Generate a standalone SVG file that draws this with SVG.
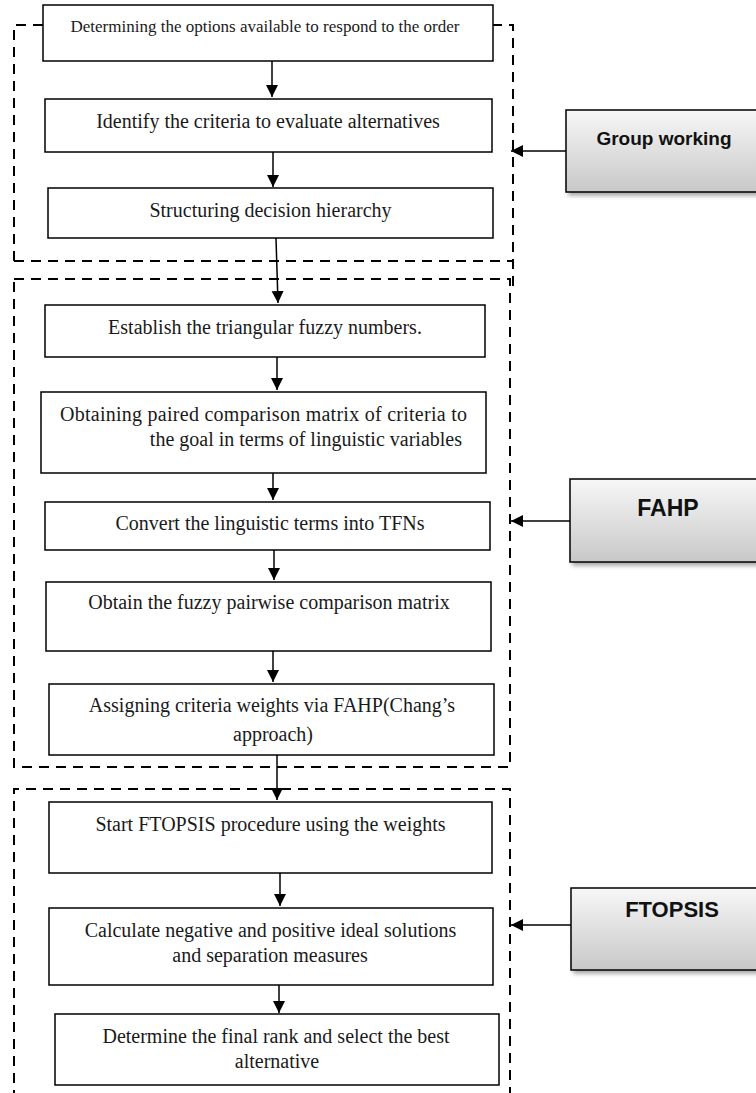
<svg xmlns="http://www.w3.org/2000/svg" width="756" height="1093" viewBox="0 0 756 1093">
<style>
.box{fill:#fff;stroke:#000;stroke-width:1.5}
.t{font-family:"Liberation Serif","Times New Roman",serif;font-size:20px;fill:#1a1a1a;text-anchor:middle}
.dash{fill:none;stroke:#000;stroke-width:2;stroke-dasharray:10 7}
.side{fill:url(#g);stroke:#000;stroke-width:1.5;filter:url(#sh)}
.st{font-family:"Liberation Sans",Arial,sans-serif;font-weight:bold;fill:#111;text-anchor:middle}
.c{fill:none;stroke:#000;stroke-width:1.5}
</style>
<defs>
<linearGradient id="g" x1="0" y1="0" x2="0" y2="1">
<stop offset="0" stop-color="#f7f7f7"/>
<stop offset="1" stop-color="#c8c8c8"/>
</linearGradient>
<filter id="sh" x="-10%" y="-10%" width="130%" height="140%">
<feDropShadow dx="3" dy="3" stdDeviation="2" flood-color="#000" flood-opacity="0.35"/>
</filter>
<marker id="ah" markerUnits="userSpaceOnUse" markerWidth="14" markerHeight="14" refX="12" refY="6" orient="auto">
<path d="M0,0 L12,6 L0,12 z" fill="#000"/>
</marker>
</defs>
<rect width="756" height="1093" fill="#fff"/>

<g id="containers">
<path class="dash" d="M14,261 V25 H513 V292"/>
<path class="dash" d="M14,261 H513"/>
<rect class="dash" x="14" y="279" width="496" height="488"/>
<path class="dash" d="M14,1100 V789 H510 V1100"/>
</g>

<g id="n1"><rect class="box" x="43" y="5" width="450" height="56"/><text class="t" x="265" y="32" style="font-size:17px">Determining the options available to respond to the order</text></g>
<g id="n2"><rect class="box" x="45" y="99" width="447" height="53"/><text class="t" x="268" y="128">Identify the criteria to evaluate alternatives</text></g>
<g id="n3"><rect class="box" x="48" y="188" width="445" height="50"/><text class="t" x="270.5" y="217">Structuring decision hierarchy</text></g>
<g id="n4"><rect class="box" x="45" y="305" width="440" height="52"/><text class="t" x="265" y="334">Establish the triangular fuzzy numbers.</text></g>
<g id="n5"><rect class="box" x="41" y="392" width="445" height="81"/><text class="t" x="60" y="421" style="text-anchor:start" textLength="407" lengthAdjust="spacing">Obtaining paired comparison matrix of criteria to</text><text class="t" x="462" y="446" style="text-anchor:end">the goal in terms of linguistic variables</text></g>
<g id="n6"><rect class="box" x="45" y="502" width="445" height="48"/><text class="t" x="270" y="530">Convert the linguistic terms into TFNs</text></g>
<g id="n7"><rect class="box" x="46" y="582" width="445" height="69"/><text class="t" x="269" y="609">Obtain the fuzzy pairwise comparison matrix</text></g>
<g id="n8"><rect class="box" x="49" y="684" width="445" height="71"/><text class="t" x="272" y="712">Assigning criteria weights via FAHP(Chang’s</text><text class="t" x="273" y="741">approach)</text></g>
<g id="n9"><rect class="box" x="49" y="802" width="443" height="71"/><text class="t" x="270.5" y="831">Start FTOPSIS procedure using the weights</text></g>
<g id="n10"><rect class="box" x="49" y="908" width="444" height="77"/><text class="t" x="270.5" y="937">Calculate negative and positive ideal solutions</text><text class="t" x="270" y="962">and separation measures</text></g>
<g id="n11"><rect class="box" x="55" y="1014" width="444" height="71"/><text class="t" x="276" y="1043">Determine the final rank and select the best</text><text class="t" x="277" y="1068">alternative</text></g>

<g id="s1"><rect class="side" x="566" y="110" width="210" height="82"/><text class="st" x="664" y="145" style="font-size:19px">Group working</text></g>
<g id="s2"><rect class="side" x="570" y="479" width="210" height="83"/><text class="st" x="668" y="516" style="font-size:23px">FAHP</text></g>
<g id="s3"><rect class="side" x="571" y="888" width="210" height="82"/><text class="st" x="672" y="917" style="font-size:22px">FTOPSIS</text></g>

<g id="connectors">
<line class="c" x1="272" y1="61" x2="272" y2="97" marker-end="url(#ah)"/>
<line class="c" x1="273" y1="152" x2="273" y2="187" marker-end="url(#ah)"/>
<line class="c" x1="276" y1="238" x2="278" y2="303" marker-end="url(#ah)"/>
<line class="c" x1="277" y1="357" x2="277" y2="390" marker-end="url(#ah)"/>
<line class="c" x1="273" y1="473" x2="273" y2="500" marker-end="url(#ah)"/>
<line class="c" x1="274" y1="550" x2="274" y2="580" marker-end="url(#ah)"/>
<line class="c" x1="273" y1="651" x2="273" y2="682" marker-end="url(#ah)"/>
<line class="c" x1="277" y1="755" x2="277" y2="800" marker-end="url(#ah)"/>
<line class="c" x1="280" y1="873" x2="280" y2="906" marker-end="url(#ah)"/>
<line class="c" x1="279" y1="985" x2="279" y2="1013" marker-end="url(#ah)"/>
<line class="c" x1="566" y1="151" x2="511" y2="151" marker-end="url(#ah)"/>
<line class="c" x1="570" y1="521" x2="511" y2="521" marker-end="url(#ah)"/>
<line class="c" x1="571" y1="925" x2="511" y2="925" marker-end="url(#ah)"/>
</g>
</svg>
